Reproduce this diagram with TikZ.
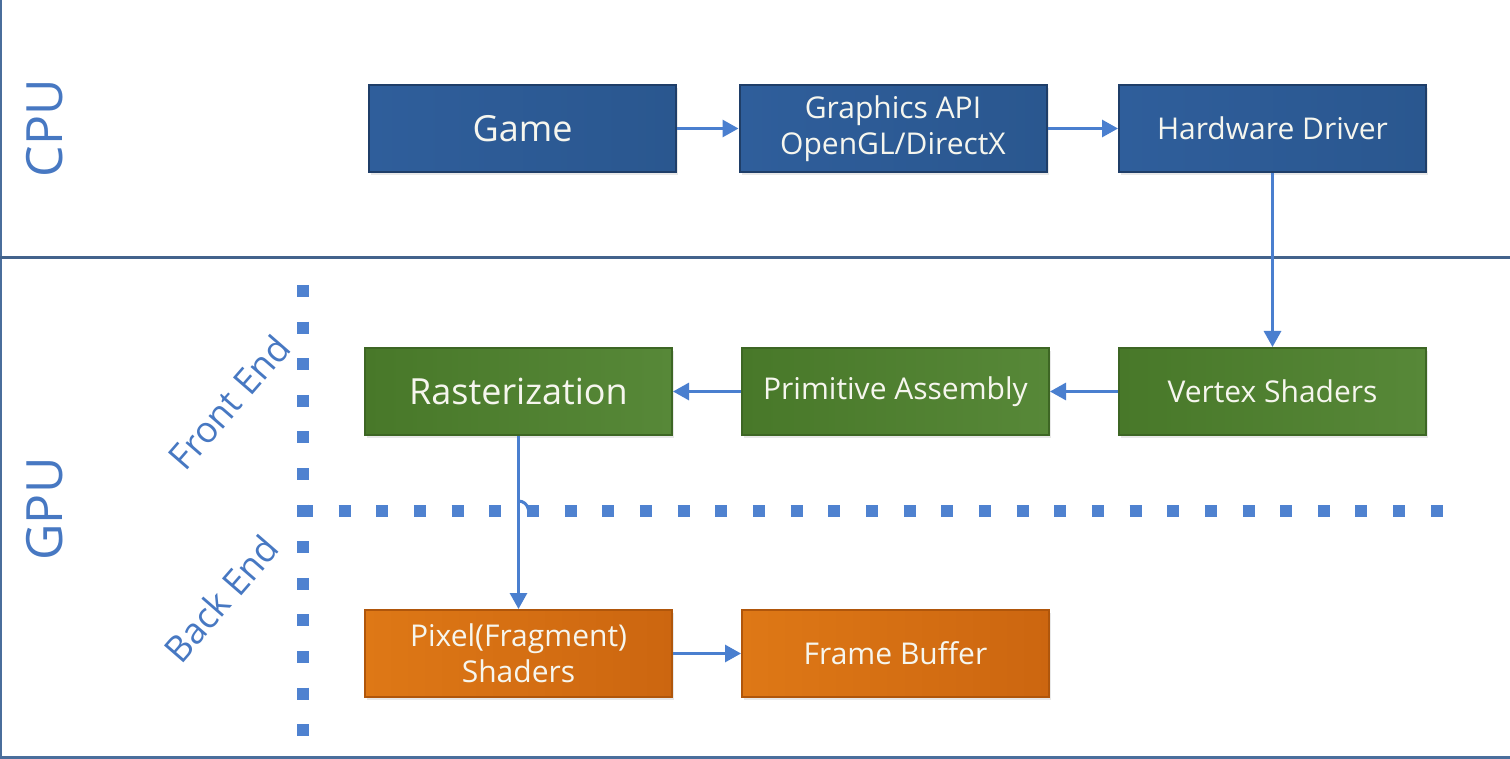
\documentclass[tikz,border=0pt]{standalone}
\usepackage{fontspec}
\setmainfont{Open Sans}
\usetikzlibrary{arrows.meta,shadows}
\definecolor{blueL}{HTML}{2F5E9B}
\definecolor{blueR}{HTML}{2A578F}
\definecolor{blueB}{HTML}{1F3E68}
\definecolor{greenL}{HTML}{487829}
\definecolor{greenR}{HTML}{578838}
\definecolor{greenB}{HTML}{3D6624}
\definecolor{orangeL}{HTML}{DE7816}
\definecolor{orangeR}{HTML}{CC6610}
\definecolor{orangeB}{HTML}{B0560B}
\definecolor{boxtext}{HTML}{F6F6EE}
\definecolor{arrowcol}{HTML}{4A7FCF}
\definecolor{dotcol}{HTML}{4F82D0}
\definecolor{labelcol}{HTML}{4778C2}
\definecolor{framecol}{HTML}{4A6E9C}
\begin{document}
\begin{tikzpicture}[x=0.5pt,y=-0.5pt,
  box/.style={draw, line width=1pt, minimum width=153.5pt, minimum height=43.5pt,
    inner sep=0pt, align=center, text=boxtext, font=\fontsize{15}{18}\selectfont,
    drop shadow={opacity=0.18, shadow xshift=1pt, shadow yshift=-1.5pt}},
  bluebox/.style={box, draw=blueB, left color=blueL, right color=blueR},
  greenbox/.style={box, draw=greenB, left color=greenL, right color=greenR},
  orangebox/.style={box, draw=orangeB, left color=orangeL, right color=orangeR},
  bigtext/.style={font=\fontsize{18}{22}\selectfont},
  conn/.style={draw=arrowcol, line width=1.5pt, -{Triangle[length=8pt,width=8.5pt]}},
  dotsv/.style={draw=dotcol, line width=6pt, dash pattern=on 6pt off 12.3pt},
  dotsh/.style={draw=dotcol, line width=6pt, dash pattern=on 6pt off 12.83pt},
  framel/.style={draw=framecol, line width=1.2pt},
  sidelabel/.style={text=labelcol, font=\fontsize{25}{30}\selectfont, rotate=90},
  endlabel/.style={text=labelcol, font=\fontsize{18}{21}\selectfont, rotate=49}]
\useasboundingbox (0,0) rectangle (1510,759);
\fill[white] (0,0) rectangle (1510,759);
% frame
\draw[framel] (1,0) -- (1,759);
\draw[framel, line width=1.5pt] (0,757.5) -- (1510,757.5);
\draw[framel, draw=framecol!90!black, line width=1.5pt] (0,258) -- (1510,258);
% dotted separators
\draw[dotsv] (303,285) -- (303,740);
\draw[dotsh] (301,511) -- (1444,511);
% side labels
\node[sidelabel] (cpu) at (45,128) {CPU};
\node[sidelabel] (gpu) at (45,509) {GPU};
\node[endlabel] (front) at (229,402) {Front End};
\node[endlabel] (back) at (221,599) {Back End};
% boxes
\node[bluebox, bigtext] (game) at (522.5,128.5) {Game};
\node[bluebox] (gapi) at (893,128.5) {Graphics API\\OpenGL/DirectX};
\node[bluebox] (hw) at (1272.5,128.5) {Hardware Driver};
\node[greenbox, bigtext] (raster) at (518.5,391.5) {Rasterization};
\node[greenbox] (prim) at (895.5,391.5) {Primitive Assembly};
\node[greenbox] (vertex) at (1272.5,391.5) {Vertex Shaders};
\node[orangebox] (pixel) at (518.5,653.5) {Pixel(Fragment)\\Shaders};
\node[orangebox] (frame) at (895.5,653.5) {Frame Buffer};
% connectors
\draw[conn] (game) -- (gapi);
\draw[conn] (gapi) -- (hw);
\draw[conn] (hw) -- (vertex);
\draw[conn] (vertex) -- (prim);
\draw[conn] (prim) -- (raster);
\draw[conn] (raster) -- (pixel);
\draw[conn] (pixel) -- (frame);
\coordinate (hop) at (518.5,501);
\draw[draw=arrowcol, line width=1.5pt] (hop) arc[start angle=90, end angle=10, radius=5pt];
\end{tikzpicture}
\end{document}
